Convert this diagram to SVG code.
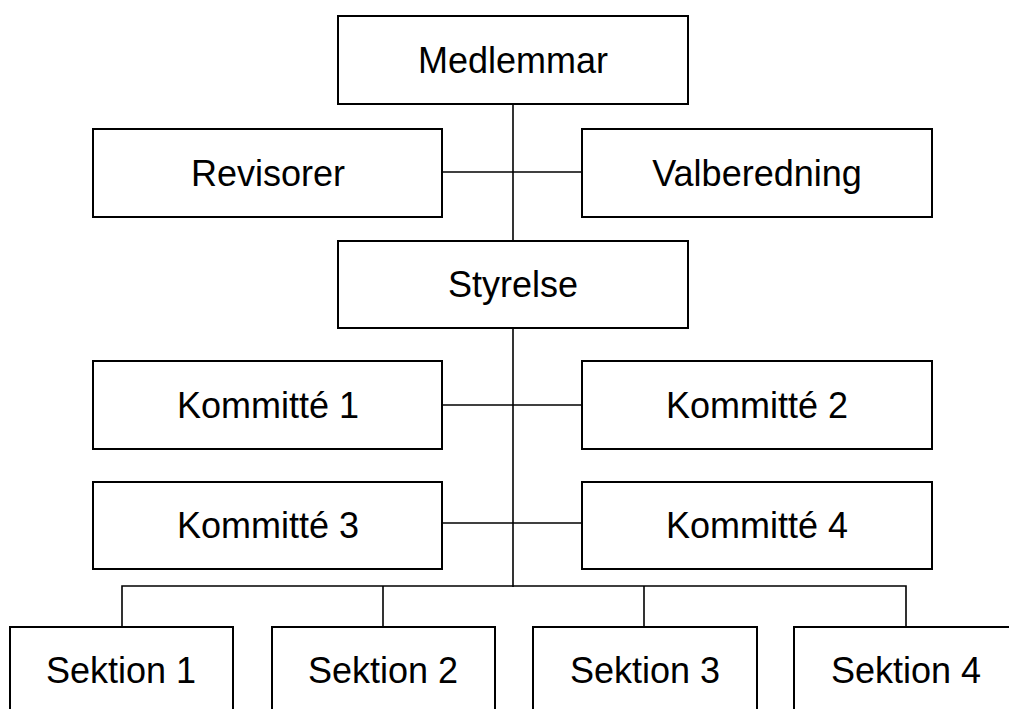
<svg xmlns="http://www.w3.org/2000/svg" width="1009" height="709" viewBox="0 0 1009 709">
<style>
.box{fill:#fff;stroke:#000;stroke-width:2}
.lbl{font-family:"Liberation Sans",Arial,sans-serif;font-size:36px;fill:#000;text-anchor:middle}
.con{stroke:#000;stroke-width:1.6;fill:none}
</style>
<rect width="1009" height="709" fill="#fff"/>
<g id="connectors">
<line class="con" x1="513" y1="104" x2="513" y2="241"/>
<line class="con" x1="442" y1="172" x2="582" y2="172"/>
<line class="con" x1="513" y1="328" x2="513" y2="587"/>
<line class="con" x1="442" y1="405" x2="582" y2="405"/>
<line class="con" x1="442" y1="523" x2="582" y2="523"/>
<polyline class="con" points="122,627 122,586 906,586 906,627"/>
<line class="con" x1="383" y1="586" x2="383" y2="627"/>
<line class="con" x1="644" y1="586" x2="644" y2="627"/>
</g>
<g id="medlemmar"><rect class="box" x="338" y="16" width="350" height="88"/><text class="lbl" x="513" y="73">Medlemmar</text></g>
<g id="revisorer"><rect class="box" x="93" y="129" width="349" height="88"/><text class="lbl" x="268" y="186">Revisorer</text></g>
<g id="valberedning"><rect class="box" x="582" y="129" width="350" height="88"/><text class="lbl" x="757" y="186">Valberedning</text></g>
<g id="styrelse"><rect class="box" x="338" y="241" width="350" height="87"/><text class="lbl" x="513" y="297">Styrelse</text></g>
<g id="kommitte1"><rect class="box" x="93" y="361" width="349" height="88"/><text class="lbl" x="268" y="418">Kommitté 1</text></g>
<g id="kommitte2"><rect class="box" x="582" y="361" width="350" height="88"/><text class="lbl" x="757" y="418">Kommitté 2</text></g>
<g id="kommitte3"><rect class="box" x="93" y="482" width="349" height="87"/><text class="lbl" x="268" y="538">Kommitté 3</text></g>
<g id="kommitte4"><rect class="box" x="582" y="482" width="350" height="87"/><text class="lbl" x="757" y="538">Kommitté 4</text></g>
<g id="sektion1"><rect class="box" x="10" y="627" width="223" height="100"/><text class="lbl" x="121" y="683">Sektion 1</text></g>
<g id="sektion2"><rect class="box" x="272" y="627" width="223" height="100"/><text class="lbl" x="383" y="683">Sektion 2</text></g>
<g id="sektion3"><rect class="box" x="533" y="627" width="224" height="100"/><text class="lbl" x="645" y="683">Sektion 3</text></g>
<g id="sektion4"><rect class="box" x="794" y="627" width="223" height="100"/><text class="lbl" x="906" y="683">Sektion 4</text></g>
</svg>
